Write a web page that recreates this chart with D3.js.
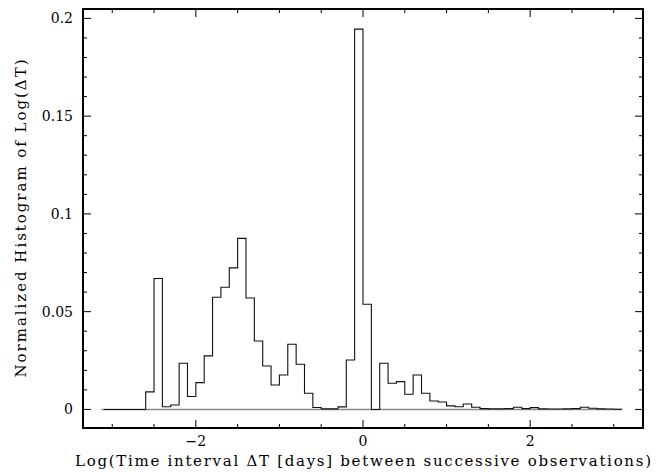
<!DOCTYPE html>
<html>
<head>
<meta charset="utf-8">
<script src="https://cdn.jsdelivr.net/npm/d3@7"></script>
<style>
  body { margin: 0; background: #fff; }
  svg { display: block; }
</style>
</head>
<body>
<div id="chart"></div>
<script>
// histogram of log(dT), bins of width 0.1 starting at -3.1
const binStart = -3.1;
const binWidth = 0.1;
const binValues = [
  0, 0, 0, 0, 0,                       // -3.1 .. -2.7
  0.009, 0.067, 0.0014, 0.0023, 0.0236, // -2.6 .. -2.2
  0.0066, 0.0137, 0.0274, 0.0574, 0.0625, // -2.1 .. -1.7
  0.0724, 0.0875, 0.057, 0.035, 0.0222, // -1.6 .. -1.2
  0.0125, 0.0176, 0.0333, 0.0231, 0.0083, // -1.1 .. -0.7
  0.001, 0.0003, 0.0003, 0.0013, 0.0253, // -0.6 .. -0.2
  0.1945, 0.0538, 0, 0.0236, 0.0134,    // -0.1 .. 0.3
  0.0142, 0.0078, 0.0176, 0.0083, 0.0043, // 0.4 .. 0.8
  0.0038, 0.0018, 0.0014, 0.0028, 0.0011, // 0.9 .. 1.3
  0.0004, 0.0003, 0.0003, 0.0004, 0.0011, // 1.4 .. 1.8
  0.0004, 0.0009, 0.0003, 0.0002, 0.0002, // 1.9 .. 2.3
  0.0003, 0.0004, 0.0011, 0.0006, 0.0003, // 2.4 .. 2.8
  0.0002, 0.0001                        // 2.9 .. 3.0
];
const xTickLabels = [-2, 0, 2];
const yTickLabels = [0, 0.05, 0.1, 0.15, 0.2];
const xTitle = "Log(Time interval \u0394T [days] between successive observations)";
const yTitle = "Normalized Histogram of Log(\u0394T)";

const width = 668, height = 472;
const margin = { left: 83, right: 25, top: 9, bottom: 44 };
const font = "'DejaVu Serif', 'Liberation Serif', serif";

const svg = d3.select("#chart").append("svg")
  .attr("width", width)
  .attr("height", height);

const x = d3.scaleLinear().domain([-3.35, 3.35]).range([margin.left, width - margin.right]);
const y = d3.scaleLinear().domain([-0.0095, 0.2048]).range([height - margin.bottom, margin.top]);

// step outline of the histogram
const pts = [];
binValues.forEach((v, i) => {
  const x0 = binStart + i * binWidth;
  pts.push([x0, v], [x0 + binWidth, v]);
});

// zero baseline (grey)
svg.append("line")
  .attr("x1", x(binStart - 0.03)).attr("x2", x(binStart + binValues.length * binWidth))
  .attr("y1", y(0)).attr("y2", y(0))
  .attr("stroke", "#8c8c8c").attr("stroke-width", 1.6);

const line = d3.line().x(d => x(d[0])).y(d => y(d[1]));
svg.append("path")
  .attr("d", line(pts))
  .attr("fill", "none")
  .attr("stroke", "#111")
  .attr("stroke-width", 1.1);

// ticks, pointing inward on all four sides
const xMinor = d3.range(-3, 3.01, 0.5);
const yMinor = d3.range(0, 0.2001, 0.01);
const isMajorX = v => Math.abs(v / 2 - Math.round(v / 2)) < 1e-6;
const isMajorY = v => Math.abs(v / 0.05 - Math.round(v / 0.05)) < 1e-6;

const gx = svg.append("g");
xMinor.forEach(v => {
  const len = isMajorX(v) ? 8 : 4;
  gx.append("line").attr("x1", x(v)).attr("x2", x(v))
    .attr("y1", y.range()[0]).attr("y2", y.range()[0] - len).attr("stroke", "#000");
  gx.append("line").attr("x1", x(v)).attr("x2", x(v))
    .attr("y1", y.range()[1]).attr("y2", y.range()[1] + len).attr("stroke", "#000");
});
const gy = svg.append("g");
yMinor.forEach(v => {
  const len = isMajorY(v) ? 8 : 4;
  gy.append("line").attr("x1", x.range()[0]).attr("x2", x.range()[0] + len)
    .attr("y1", y(v)).attr("y2", y(v)).attr("stroke", "#000");
  gy.append("line").attr("x1", x.range()[1]).attr("x2", x.range()[1] - len)
    .attr("y1", y(v)).attr("y2", y(v)).attr("stroke", "#000");
});

// frame
svg.append("rect")
  .attr("x", x.range()[0]).attr("y", y.range()[1])
  .attr("width", x.range()[1] - x.range()[0])
  .attr("height", y.range()[0] - y.range()[1])
  .attr("fill", "none").attr("stroke", "#000").attr("stroke-width", 2);

// tick labels
svg.append("g").selectAll("text")
  .data(xTickLabels)
  .join("text")
  .attr("x", d => x(d))
  .attr("y", y.range()[0] + 18)
  .attr("text-anchor", "middle")
  .attr("font-family", font)
  .attr("font-size", 14)
  .text(d => d < 0 ? "\u2212" + Math.abs(d) : d);

svg.append("g").selectAll("text")
  .data(yTickLabels)
  .join("text")
  .attr("x", x.range()[0] - 10)
  .attr("y", d => y(d) + 5)
  .attr("text-anchor", "end")
  .attr("font-family", font)
  .attr("font-size", 14)
  .text(d => d);

// axis titles
svg.append("text")
  .attr("x", x(0))
  .attr("y", height - 6)
  .attr("text-anchor", "middle")
  .attr("textLength", 576)
  .attr("lengthAdjust", "spacing")
  .attr("font-family", font)
  .attr("font-size", 15)
  .text(xTitle);

svg.append("text")
  .attr("transform", `translate(26, ${(y.range()[0] + y.range()[1]) / 2}) rotate(-90)`)
  .attr("text-anchor", "middle")
  .attr("textLength", 318)
  .attr("lengthAdjust", "spacing")
  .attr("font-family", font)
  .attr("font-size", 15)
  .text(yTitle);
</script>
</body>
</html>
